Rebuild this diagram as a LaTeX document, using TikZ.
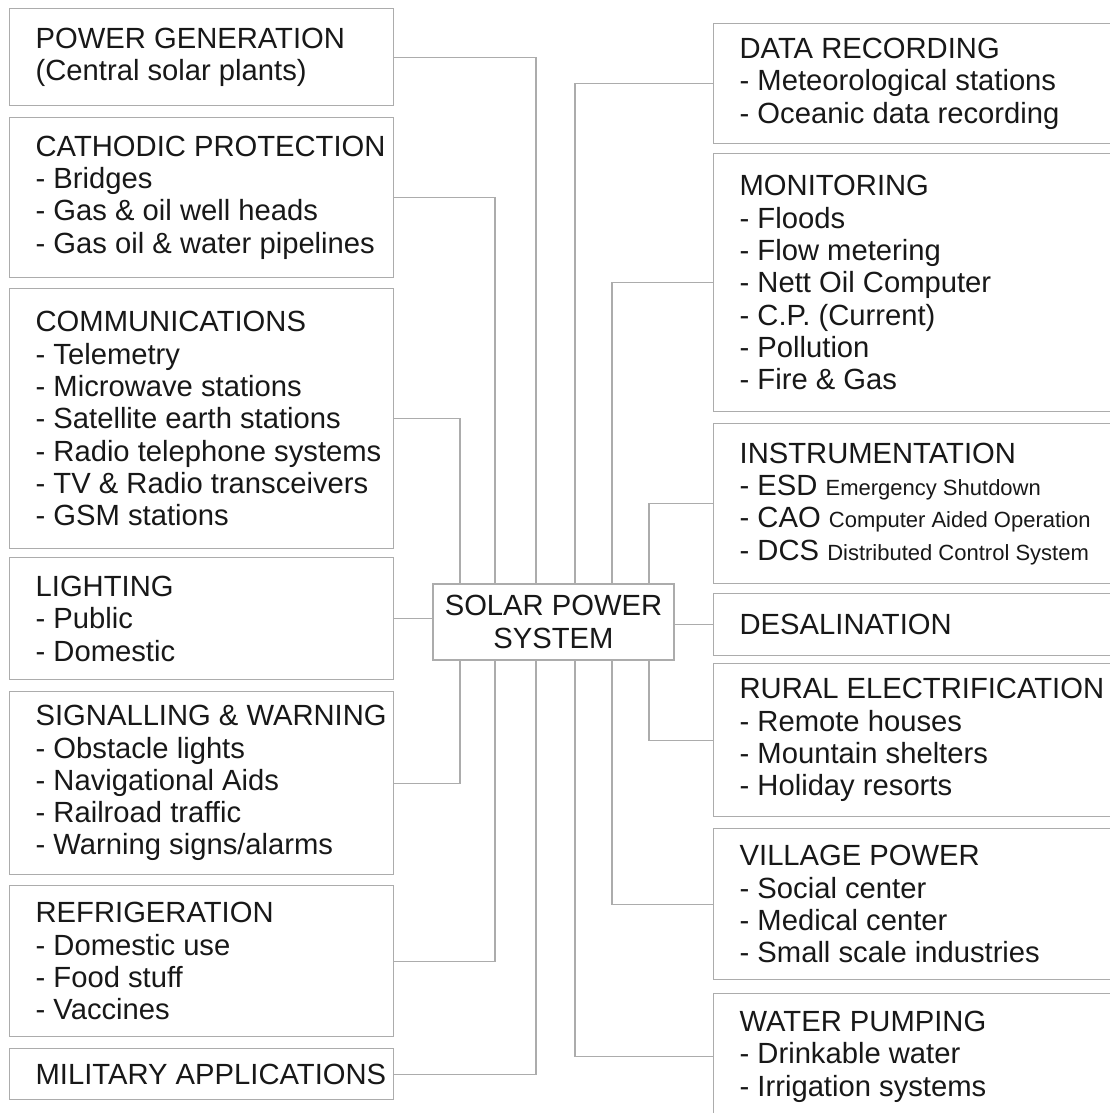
\documentclass[tikz,border=0pt]{standalone}
\usepackage{fontspec}
\setmainfont{Liberation Sans}
\usepackage{xcolor}

\definecolor{linegray}{RGB}{172,172,172}
\definecolor{inkblack}{RGB}{24,24,24}

% smaller words after the abbreviations
\newcommand{\abbrnote}[1]{{\fontsize{22}{32.3}\selectfont #1}}

\tikzset{
  appbox/.style={draw=linegray, line width=1.3pt, anchor=north west,
    inner xsep=5pt, inner ysep=0pt, text width=#1, align=flush left, text=inkblack,
    font=\fontsize{29.2}{32.3}\selectfont, execute at begin node={\leftskip=21pt}},
  hubbox/.style={draw=linegray, line width=1.3pt, align=center, text=inkblack,
    minimum width=241pt, minimum height=76pt, inner sep=0pt,
    font=\fontsize{29.2}{33}\selectfont},
  link/.style={draw=linegray, line width=1.1pt},
}

\begin{document}
\begin{tikzpicture}[x=1pt, y=-1pt]
\fill[white] (0,0) rectangle (1110,1113);
\useasboundingbox (0,0) rectangle (1110,1113);

\node[hubbox] (hub) at (553.5,622) {SOLAR POWER\\SYSTEM};

% left column
\node[appbox=374pt, minimum height=97pt] (pgen) at (9,8)
  {POWER GENERATION\\(Central solar plants)};
\node[appbox=374pt, minimum height=160pt] (cath) at (9,117)
  {CATHODIC PROTECTION\\- Bridges\\- Gas \& oil well heads\\- Gas oil \& water pipelines};
\node[appbox=374pt, minimum height=260pt] (comm) at (9,288)
  {COMMUNICATIONS\\- Telemetry\\- Microwave stations\\- Satellite earth stations\\- Radio telephone systems\\- TV \& Radio transceivers\\- GSM stations};
\node[appbox=374pt, minimum height=122pt] (light) at (9,557)
  {LIGHTING\\- Public\\- Domestic};
\node[appbox=374pt, minimum height=183pt] (signal) at (9,691)
  {SIGNALLING \& WARNING\\- Obstacle lights\\- Navigational Aids\\- Railroad traffic\\- Warning signs/alarms};
\node[appbox=374pt, minimum height=151pt] (refrig) at (9,885)
  {REFRIGERATION\\- Domestic use\\- Food stuff\\- Vaccines};
\node[appbox=374pt, minimum height=51pt] (mil) at (9,1048)
  {MILITARY APPLICATIONS};

% right column, running off the page edge
\node[appbox=420pt, minimum height=120pt] (data) at (713,23)
  {DATA RECORDING\\- Meteorological stations\\- Oceanic data recording};
\node[appbox=420pt, minimum height=258pt] (monitor) at (713,153)
  {MONITORING\\- Floods\\- Flow metering\\- Nett Oil Computer\\- C.P. (Current)\\- Pollution\\- Fire \& Gas};
\node[appbox=420pt, minimum height=160pt] (instr) at (713,423)
  {INSTRUMENTATION\\- ESD \abbrnote{Emergency Shutdown}\\- CAO \abbrnote{Computer Aided Operation}\\- DCS \abbrnote{Distributed Control System}};
\node[appbox=420pt, minimum height=62pt] (desal) at (713,593)
  {DESALINATION};
\node[appbox=420pt, minimum height=153pt] (rural) at (713,663)
  {RURAL ELECTRIFICATION\\- Remote houses\\- Mountain shelters\\- Holiday resorts};
\node[appbox=420pt, minimum height=151pt] (village) at (713,828)
  {VILLAGE POWER\\- Social center\\- Medical center\\- Small scale industries};
\node[appbox=420pt, minimum height=126pt] (water) at (713,993)
  {WATER PUMPING\\- Drinkable water\\- Irrigation systems};

% links into the hub
\foreach \n/\dx in {pgen/-17.5, cath/-58.5, comm/-93.5}
  \draw[link] (\n.east) -| ([xshift=\dx pt]hub.north);
\foreach \n/\dx in {signal/-93.5, refrig/-58.5, mil/-17.5}
  \draw[link] (\n.east) -| ([xshift=\dx pt]hub.south);
\foreach \n/\dx in {data/21.5, monitor/58.5, instr/95.5}
  \draw[link] (\n.west) -| ([xshift=\dx pt]hub.north);
\foreach \n/\dx in {rural/95.5, village/58.5, water/21.5}
  \draw[link] (\n.west) -| ([xshift=\dx pt]hub.south);
\draw[link] (light.east) -- (light.east -| hub.west);
\draw[link] (desal.west) -- (desal.west -| hub.east);
\end{tikzpicture}
\end{document}
